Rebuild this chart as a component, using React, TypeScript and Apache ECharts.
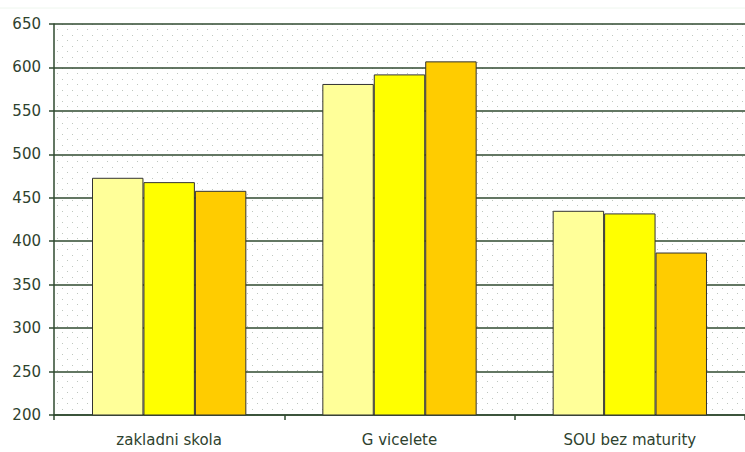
import React, { useEffect, useRef } from "react";
import * as echarts from "echarts";

const categories = ["zakladni skola", "G vicelete", "SOU bez maturity"];
const seriesA = [473, 581, 435];
const seriesB = [468, 592, 432];
const seriesC = [458, 607, 387];
const barColors = ["#ffff99", "#ffff00", "#ffcc00"];

const axisMin = 200;
const axisMax = 650;
const axisStep = 50;

function dotPattern(): HTMLCanvasElement {
  const c = document.createElement("canvas");
  c.width = 10;
  c.height = 11;
  const ctx = c.getContext("2d")!;
  ctx.fillStyle = "#ffffff";
  ctx.fillRect(0, 0, 10, 11);
  ctx.fillStyle = "#bfc7bf";
  ctx.fillRect(2, 2, 1, 1);
  ctx.fillRect(7, 7, 1, 1);
  return c;
}

export default function App() {
  const ref = useRef<HTMLDivElement>(null);

  useEffect(() => {
    if (!ref.current) return;
    const chart = echarts.init(ref.current, undefined, { renderer: "svg" });
    const textColor = "#2e422e";
    const lineColor = "#2f4a2f";
    const mk = (data: number[], color: string) => ({
      type: "bar" as const,
      data,
      barGap: "0%",
      barCategoryGap: "33%",
      itemStyle: { color, borderColor: "#333333", borderWidth: 1 },
    });
    chart.setOption({
      animation: false,
      backgroundColor: "#ffffff",
      textStyle: { fontFamily: "DejaVu Sans, sans-serif" },
      grid: {
        left: 54,
        top: 24,
        width: 699,
        height: 391,
        show: true,
        borderWidth: 0,
        backgroundColor: { image: dotPattern(), repeat: "repeat" },
      },
      graphic: [
        {
          type: "line",
          shape: { x1: 0, y1: 8, x2: 745, y2: 8 },
          style: { stroke: "#eef6ee", lineWidth: 1 },
          silent: true,
        },
      ],
      xAxis: {
        type: "category",
        data: categories,
        axisLine: { lineStyle: { color: lineColor, width: 1.5 } },
        axisTick: { show: true, length: 5, lineStyle: { color: lineColor, width: 1.5 } },
        axisLabel: { color: textColor, fontSize: 15, margin: 17 },
      },
      yAxis: {
        type: "value",
        min: axisMin,
        max: axisMax,
        interval: axisStep,
        axisLine: { show: true, lineStyle: { color: lineColor, width: 1.5 } },
        axisTick: { show: true, length: 5, lineStyle: { color: lineColor, width: 1.5 } },
        axisLabel: { color: textColor, fontSize: 15, margin: 13 },
        splitLine: { show: true, lineStyle: { color: lineColor, width: 1.5 } },
      },
      series: [
        mk(seriesA, barColors[0]),
        mk(seriesB, barColors[1]),
        mk(seriesC, barColors[2]),
      ],
    });
    return () => chart.dispose();
  }, []);

  return (
    <div
      ref={ref}
      style={{ position: "fixed", left: 0, top: 0, width: 745, height: 452 }}
    />
  );
}
